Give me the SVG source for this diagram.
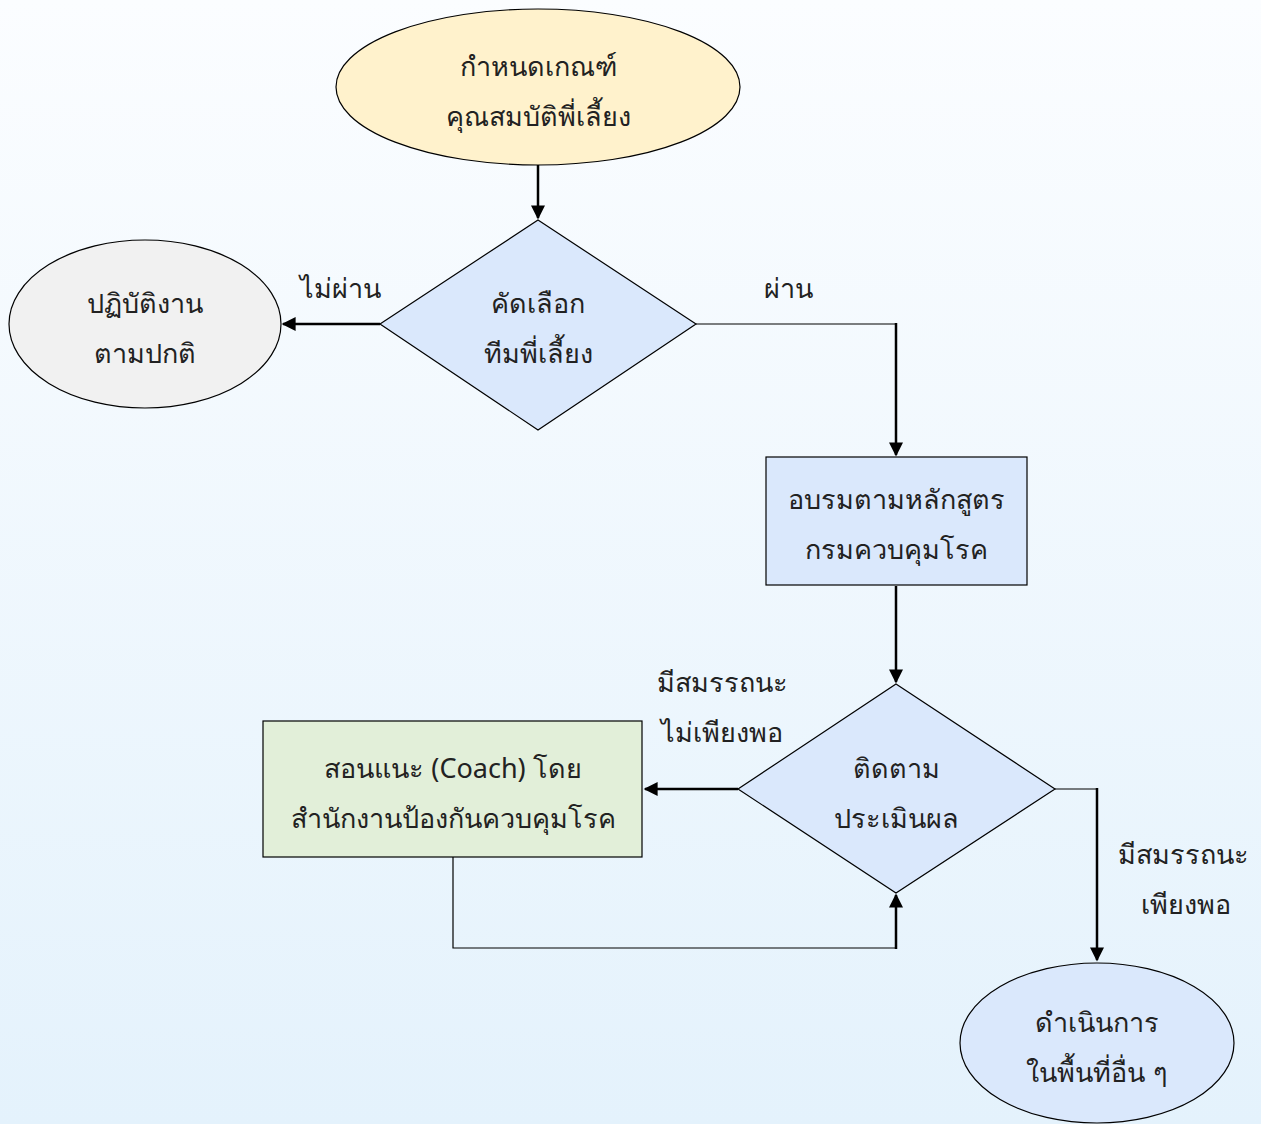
<svg xmlns="http://www.w3.org/2000/svg" width="1261" height="1124" viewBox="0 0 1261 1124">
  <defs>
    <linearGradient id="bg" x1="0" y1="0" x2="0" y2="1">
      <stop offset="0" stop-color="#fbfdff"/>
      <stop offset="1" stop-color="#e4f2fc"/>
    </linearGradient>
    <marker id="arrowL" viewBox="0 0 10 10" refX="9" refY="5" markerWidth="16" markerHeight="14" markerUnits="userSpaceOnUse" orient="auto">
      <path d="M0,0 L10,5 L0,10 z" fill="#000"/>
    </marker>
  </defs>
  <style>
    .shape { stroke: #000; stroke-width: 1.2; }
    .yellow { fill: #fff2cc; }
    .blue { fill: #dae8fc; }
    .grey { fill: #f1f1f1; }
    .green { fill: #e2efd9; }
    text { font-family: "Noto Sans", "DejaVu Sans", "Liberation Sans", sans-serif; font-size: 27px; fill: #222; text-anchor: middle; }
    .line { fill: none; stroke: #000; stroke-width: 2.5; }
    .thin { fill: none; stroke: #000; stroke-width: 1.2; }
  </style>

  <rect x="0" y="0" width="1261" height="1124" fill="url(#bg)"/>

  <!-- connectors and their labels -->
  <g id="connectors">
    <path class="line" d="M538,165 L538,218" marker-end="url(#arrowL)"/>
    <path class="line" d="M380,324 L283,324" marker-end="url(#arrowL)"/>
    <path class="thin" d="M696,324 L896,324"/>
    <path class="line" d="M896,323 L896,455" marker-end="url(#arrowL)"/>
    <path class="line" d="M896,586 L896,682" marker-end="url(#arrowL)"/>
    <path class="line" d="M738,789 L645,789" marker-end="url(#arrowL)"/>
    <path class="thin" d="M453,857 L453,948 L896,948"/>
    <path class="line" d="M896,949 L896,895" marker-end="url(#arrowL)"/>
    <path class="thin" d="M1055,789 L1097,789"/>
    <path class="line" d="M1097,788 L1097,960" marker-end="url(#arrowL)"/>
    <text x="340" y="298">ไม่ผ่าน</text>
    <text x="788" y="298">ผ่าน</text>
    <text x="722" y="692">มีสมรรถนะ</text>
    <text x="722" y="742">ไม่เพียงพอ</text>
    <text x="1183" y="864">มีสมรรถนะ</text>
    <text x="1186" y="914">เพียงพอ</text>
  </g>

  <g id="criteria">
    <ellipse class="shape yellow" cx="538" cy="87" rx="202" ry="78"/>
    <text x="538" y="76">กำหนดเกณฑ์</text>
    <text x="538" y="126">คุณสมบัติพี่เลี้ยง</text>
  </g>

  <g id="screening">
    <polygon class="shape blue" points="538,220 696,324 538,430 380,324"/>
    <text x="538" y="313">คัดเลือก</text>
    <text x="538" y="363">ทีมพี่เลี้ยง</text>
  </g>

  <g id="routine">
    <ellipse class="shape grey" cx="145" cy="324" rx="136" ry="84"/>
    <text x="145" y="313">ปฏิบัติงาน</text>
    <text x="145" y="363">ตามปกติ</text>
  </g>

  <g id="training">
    <rect class="shape blue" x="766" y="457" width="261" height="128"/>
    <text x="896" y="509">อบรมตามหลักสูตร</text>
    <text x="896" y="559">กรมควบคุมโรค</text>
  </g>

  <g id="evaluate">
    <polygon class="shape blue" points="896,684 1055,789 896,893 738,789"/>
    <text x="896" y="778">ติดตาม</text>
    <text x="896" y="828">ประเมินผล</text>
  </g>

  <g id="coaching">
    <rect class="shape green" x="263" y="721" width="379" height="136"/>
    <text x="453" y="778">สอนแนะ (Coach) โดย</text>
    <text x="453" y="828">สำนักงานป้องกันควบคุมโรค</text>
  </g>

  <g id="expand">
    <ellipse class="shape blue" cx="1097" cy="1043" rx="137" ry="80"/>
    <text x="1097" y="1032">ดำเนินการ</text>
    <text x="1097" y="1082">ในพื้นที่อื่น ๆ</text>
  </g>
</svg>
